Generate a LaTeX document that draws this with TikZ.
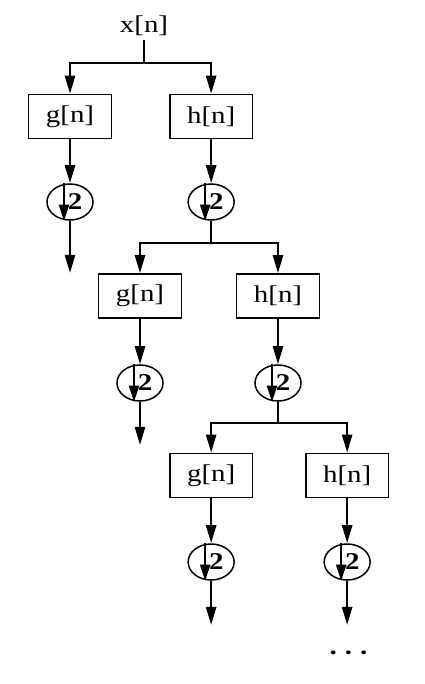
\documentclass[tikz,border=0pt]{standalone}
\usepackage{fontspec}
\setmainfont{Liberation Serif}[FakeStretch=1.2]
\usetikzlibrary{arrows.meta,backgrounds,shapes.geometric}

\begin{document}
\begin{tikzpicture}[
  >={Triangle[length=18pt,width=10pt]},
  every node/.style={font=\fontsize{24}{28}\selectfont},
  filter/.style={draw, line width=1.6pt, minimum width=2.9cm, minimum height=1.54cm, inner sep=2pt},
  decim/.style={draw, ellipse, line width=1.5pt, minimum width=1.61cm, minimum height=1.26cm, inner sep=0pt},
  factor/.style={font=\fontsize{24}{28}\selectfont\bfseries, inner sep=0pt},
  wire/.style={line width=2.4pt},
  arrow/.style={->, line width=2.4pt},
  innerarrow/.style={-{Triangle[length=16pt,width=10pt]}, line width=2pt}
]
  \useasboundingbox (0,0) rectangle (14.84,-23.94);


  \node                 (input)      at (5.04, -0.91)   {x[n]};
  \coordinate           (splitA)     at (5.04, -2.205);
  \node[filter]         (lowA)       at (2.45, -4.08)   {g[n]};
  \node[filter]         (highA)      at (7.39, -4.08)   {h[n]};
  \node[decim]          (decimlowA)  at (2.45, -7.07)   {};
  \node[decim]          (decimhighA) at (7.39, -7.07)   {};
  \coordinate           (outlowA)    at (2.45, -9.555);


  \coordinate           (splitB)     at (7.39, -8.505);
  \node[filter]         (lowB)       at (4.90, -10.36)  {g[n]};
  \node[filter]         (highB)      at (9.73, -10.36)  {h[n]};
  \node[decim]          (decimlowB)  at (4.90, -13.405) {};
  \node[decim]          (decimhighB) at (9.73, -13.405) {};
  \coordinate           (outlowB)    at (4.90, -15.575);


  \coordinate           (splitC)     at (9.73, -14.805);
  \node[filter]         (lowC)       at (7.39, -16.64)  {g[n]};
  \node[filter]         (highC)      at (12.15, -16.64) {h[n]};
  \node[decim]          (decimlowC)  at (7.39, -19.67)  {};
  \node[decim]          (decimhighC) at (12.15, -19.67) {};
  \coordinate           (outlowC)    at (7.39, -21.875);
  \coordinate           (outhighC)   at (12.15, -21.875);
  \node[anchor=base]    (more)       at (12.2, -22.89)  {\bfseries .\hspace{8pt}.\hspace{8pt}.};


  \node[factor] (twolowA)  at ([xshift=0.18cm]decimlowA.center)  {2};
  \node[factor] (twohighA) at ([xshift=0.18cm]decimhighA.center) {2};
  \node[factor] (twolowB)  at ([xshift=0.18cm]decimlowB.center)  {2};
  \node[factor] (twohighB) at ([xshift=0.18cm]decimhighB.center) {2};
  \node[factor] (twolowC)  at ([xshift=0.18cm]decimlowC.center)  {2};
  \node[factor] (twohighC) at ([xshift=0.18cm]decimhighC.center) {2};

  \begin{pgfonlayer}{background}

    \draw[wire]  (input) -- (splitA);
    \draw[arrow] (splitA) -| (lowA);
    \draw[arrow] (splitA) -| (highA);
    \draw[arrow] (lowA) -- (decimlowA);
    \draw[arrow] (highA) -- (decimhighA);
    \draw[arrow] (decimlowA) -- (outlowA);
    \draw[wire]  (decimhighA) -- (splitB);


    \draw[arrow] (splitB) -| (lowB);
    \draw[arrow] (splitB) -| (highB);
    \draw[arrow] (lowB) -- (decimlowB);
    \draw[arrow] (highB) -- (decimhighB);
    \draw[arrow] (decimlowB) -- (outlowB);
    \draw[wire]  (decimhighB) -- (splitC);


    \draw[arrow] (splitC) -| (lowC);
    \draw[arrow] (splitC) -| (highC);
    \draw[arrow] (lowC) -- (decimlowC);
    \draw[arrow] (highC) -- (decimhighC);
    \draw[arrow] (decimlowC) -- (outlowC);
    \draw[arrow] (decimhighC) -- (outhighC);


    \draw[innerarrow] ([xshift=-0.21cm]decimlowA.north)  -- ([xshift=-0.21cm]decimlowA.south);
    \draw[innerarrow] ([xshift=-0.21cm]decimhighA.north) -- ([xshift=-0.21cm]decimhighA.south);
    \draw[innerarrow] ([xshift=-0.21cm]decimlowB.north)  -- ([xshift=-0.21cm]decimlowB.south);
    \draw[innerarrow] ([xshift=-0.21cm]decimhighB.north) -- ([xshift=-0.21cm]decimhighB.south);
    \draw[innerarrow] ([xshift=-0.21cm]decimlowC.north)  -- ([xshift=-0.21cm]decimlowC.south);
    \draw[innerarrow] ([xshift=-0.21cm]decimhighC.north) -- ([xshift=-0.21cm]decimhighC.south);
  \end{pgfonlayer}
\end{tikzpicture}
\end{document}
